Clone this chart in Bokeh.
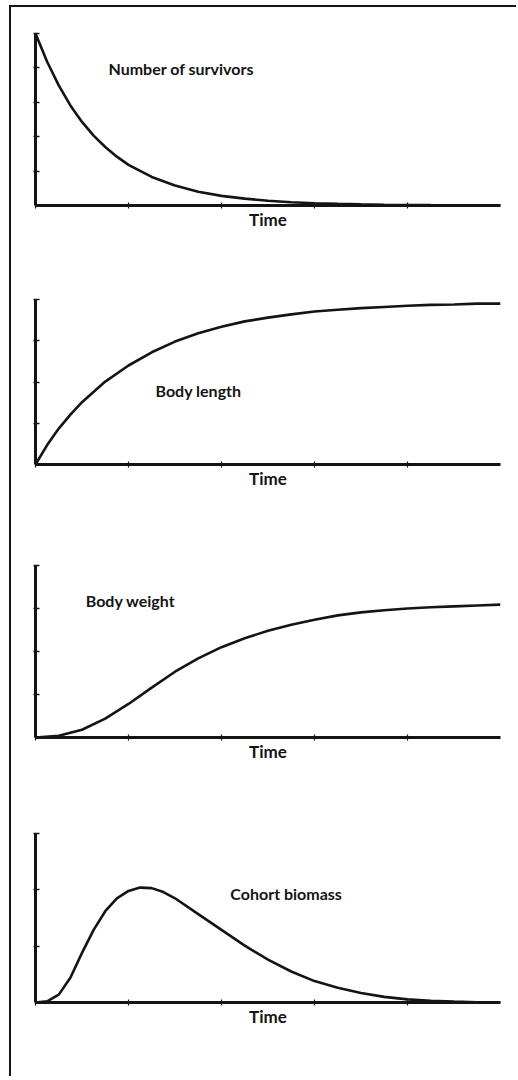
from bokeh.plotting import figure
from bokeh.layouts import column
from bokeh.models import Label, FixedTicker, CustomLabelingPolicy
from bokeh.embed import file_html
from bokeh.resources import INLINE

# ---- data (time in arbitrary units 0..10) ----
time_survivors = [0, 0.25, 0.5, 0.75, 1.0, 1.25, 1.5, 1.75, 2.0, 2.5, 3.0, 3.5, 4.0,
                  4.5, 5.0, 5.5, 6.0, 6.5, 7.0, 7.5, 8.0, 8.5, 9.0, 9.5, 10.0]
survivors = [5.0, 4.18, 3.49, 2.91, 2.43, 2.03, 1.70, 1.42, 1.18, 0.83, 0.58, 0.40, 0.28,
             0.20, 0.14, 0.095, 0.066, 0.046, 0.032, 0.022, 0.016, 0.011, 0.008, 0.005, 0.004]

time_length = [0, 0.25, 0.5, 0.75, 1.0, 1.5, 2.0, 2.5, 3.0, 3.5, 4.0, 4.5, 5.0,
               5.5, 6.0, 6.5, 7.0, 7.5, 8.0, 8.5, 9.0, 9.5, 10.0]
body_length = [0, 0.47, 0.87, 1.21, 1.51, 2.01, 2.40, 2.72, 2.98, 3.18, 3.34, 3.47, 3.56,
               3.64, 3.71, 3.75, 3.79, 3.82, 3.85, 3.87, 3.88, 3.90, 3.90]

time_weight = [0, 0.5, 1.0, 1.5, 2.0, 2.5, 3.0, 3.5, 4.0, 4.5, 5.0, 5.5, 6.0,
               6.5, 7.0, 7.5, 8.0, 8.5, 9.0, 9.5, 10.0]
body_weight = [0, 0.04, 0.18, 0.44, 0.78, 1.16, 1.53, 1.84, 2.10, 2.31, 2.48, 2.62, 2.74,
               2.84, 2.91, 2.96, 3.00, 3.03, 3.05, 3.07, 3.09]

time_biomass = [0, 0.25, 0.5, 0.75, 1.0, 1.25, 1.5, 1.75, 2.0, 2.25, 2.5, 2.75, 3.0, 3.5,
                4.0, 4.5, 5.0, 5.5, 6.0, 6.5, 7.0, 7.5, 8.0, 8.5, 9.0, 9.5, 10.0]
cohort_biomass = [0, 0.02, 0.14, 0.44, 0.88, 1.29, 1.62, 1.85, 1.98, 2.04, 2.03, 1.96, 1.85, 1.57,
                  1.29, 1.01, 0.76, 0.55, 0.38, 0.26, 0.17, 0.10, 0.055, 0.03, 0.015, 0.005, 0.0]

panel_titles = ["Number of survivors", "Body length", "Body weight", "Cohort biomass"]
x_label = "Time"
x_ticks = [0, 2, 4, 6, 8]

INK = "#141414"
FONT = "Lato"

no_labels = CustomLabelingPolicy(code="""
for (let i = 0; i < indices.size; i++) { indices.unset(i) }
return indices
""")


def make_panel(height, b_top, b_bottom, ymax, yticks, xs, ys, title, lx, ly):
    p = figure(width=505, height=height, x_range=(0, 10), y_range=(0, ymax),
               output_backend="svg", toolbar_location=None,
               min_border_left=24, min_border_right=16,
               min_border_top=b_top, min_border_bottom=b_bottom)
    p.xgrid.visible = False
    p.ygrid.visible = False
    p.outline_line_color = None
    p.background_fill_color = "white"
    p.border_fill_color = "white"

    ya = p.yaxis[0]
    ya.ticker = FixedTicker(ticks=yticks)
    ya.axis_line_width = 3
    ya.axis_line_color = INK
    ya.major_tick_in = 4
    ya.major_tick_out = 2
    ya.major_tick_line_width = 1.5
    ya.major_tick_line_color = INK
    ya.minor_tick_line_color = None
    ya.major_label_policy = no_labels
    ya.major_label_text_font_size = "1px"
    ya.major_label_standoff = 0

    xa = p.xaxis[0]
    xa.ticker = FixedTicker(ticks=x_ticks)
    xa.axis_line_width = 3
    xa.axis_line_color = INK
    xa.major_tick_in = 3
    xa.major_tick_out = 3
    xa.major_tick_line_width = 1.2
    xa.major_tick_line_color = INK
    xa.minor_tick_line_color = None
    xa.major_label_policy = no_labels
    xa.major_label_text_font_size = "1px"
    xa.major_label_standoff = 0
    xa.axis_label = x_label
    xa.axis_label_text_font = FONT
    xa.axis_label_text_font_style = "bold"
    xa.axis_label_text_font_size = "17px"
    xa.axis_label_text_color = INK
    xa.axis_label_standoff = -4

    p.line(xs, ys, line_width=2.6, line_color=INK)
    p.add_layout(Label(x=lx, y=ly, text=title, text_font=FONT, text_font_style="bold",
                       text_font_size="16px", text_color=INK, text_baseline="middle"))
    return p


p1 = make_panel(243, 26, 45, 5, [1, 2, 3, 4, 5], time_survivors, survivors,
                panel_titles[0], 1.57, 3.98)
p2 = make_panel(265, 49, 51, 4, [1, 2, 3, 4], time_length, body_length,
                panel_titles[1], 2.58, 1.79)
p3 = make_panel(270, 50, 48, 4, [1, 2, 3, 4], time_weight, body_weight,
                panel_titles[2], 1.08, 3.19)
p4 = make_panel(291, 48, 74, 3, [1, 2, 3], time_biomass, cohort_biomass,
                panel_titles[3], 4.19, 1.94)

layout = column(p1, p2, p3, p4, spacing=0, margin=(5, 0, 0, 9),
                styles={"border-left": "2px solid #141414",
                        "border-top": "2px solid #141414"})

open("out.html", "w").write(file_html(layout, INLINE))
